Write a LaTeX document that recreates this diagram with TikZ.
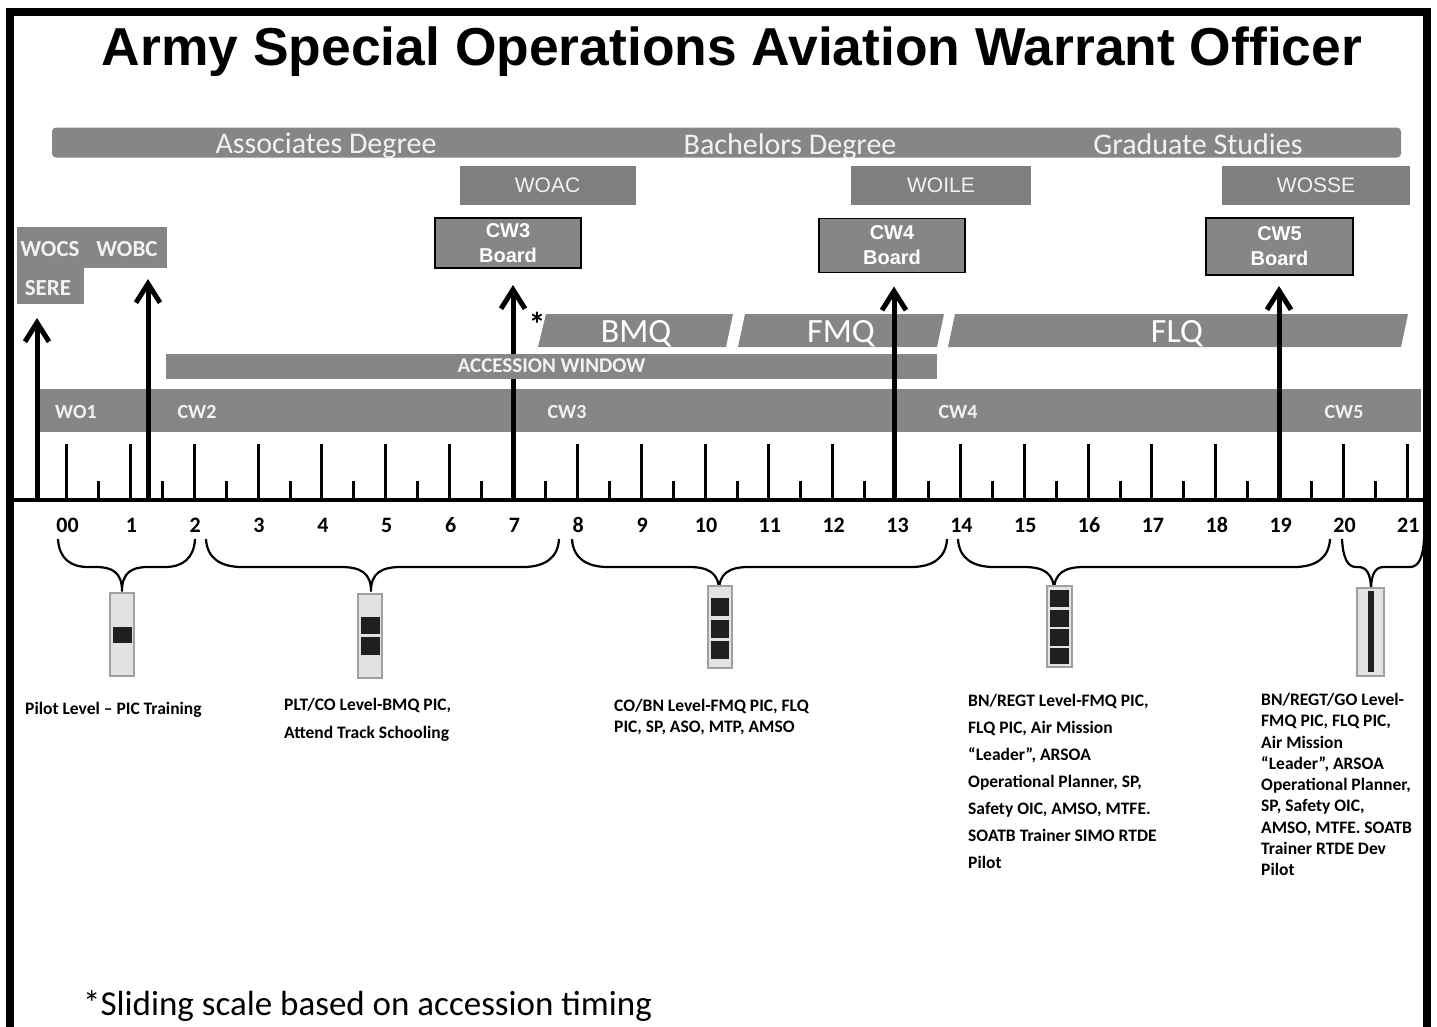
\documentclass[tikz,border=0pt]{standalone}
\usepackage{fontspec}
\setmainfont{Carlito}
\newfontfamily\arialf{Liberation Sans}
\usetikzlibrary{arrows.meta}
\definecolor{bargray}{RGB}{134,134,134}
\definecolor{boxgray}{RGB}{127,127,127}
\definecolor{insbg}{RGB}{226,226,226}
\definecolor{insedge}{RGB}{160,160,160}
\definecolor{bartext}{RGB}{242,242,242}
\newcommand\fs[1]{\fontsize{#1}{#1}\selectfont}
\newcommand\curlybrace[5]{%
  \draw[bracepath] (#1,539) .. controls ({#1+1},558) and ({#1+#4*0.4},567) .. ({#1+#4},567)
    -- ({#2-#5},567) .. controls ({#2-#5*0.35},567) and (#2,573) .. (#2,591)
    .. controls (#2,573) and ({#2+#5*0.35},567) .. ({#2+#5},567)
    -- ({#3-#4},567) .. controls ({#3-#4*0.4},567) and ({#3-1},558) .. (#3,539);}
\begin{document}
\begin{tikzpicture}[x=1pt,y=-1pt,
  graybar/.style={fill=bargray,draw=none,inner sep=0pt,outer sep=0pt},
  coursebox/.style={fill=boxgray,draw=none,inner sep=0pt,outer sep=0pt,text=bartext,font=\arialf\fs{21}},
  boardbox/.style={fill=bargray,draw=black,line width=1.2pt,inner sep=0pt,outer sep=0pt,text=white,
    font=\arialf\bfseries\fontsize{20}{25}\selectfont,align=center},
  bartxt/.style={text=bartext,inner sep=0pt},
  ranktxt/.style={bartxt,font=\bfseries\fs{20}},
  degtxt/.style={bartxt,font=\fs{30},anchor=base},
  qualtxt/.style={text=white,font=\fs{34},anchor=base,inner sep=0pt},
  yearlab/.style={font=\bfseries\fs{22},anchor=base,inner sep=0pt},
  desc/.style={font=\bfseries\fs{17.5},anchor=base west,inner sep=0pt},
  bigarrow/.style={line width=5pt,-{Straight Barb[length=19pt,width=24pt]}},
  tickmark/.style={line width=3pt},
  bracepath/.style={line width=2.2pt,line join=round},
  insig/.style={fill=insbg,draw=insedge,line width=1.2pt},
  stripe/.style={fill=black!88}
]
\useasboundingbox (0,0) rectangle (1437,1026);
\clip (0,0) rectangle (1437,1026);
% frame
\draw[line width=8pt] (10,1040) -- (10,12) -- (1427,12) -- (1427,1040);
% title
\node[font=\arialf\bfseries\fs{53.4},anchor=base,inner sep=0pt] (title) at (732,65)
  {Army Special Operations Aviation Warrant Officer};
% degree bar
\node[graybar,minimum width=1349pt,minimum height=30pt,rounded corners=4pt] (deg) at (726.5,142.5) {};
\node[degtxt] (assoc) at (326,153) {Associates Degree};
\node[degtxt] (bach) at (790,154) {Bachelors Degree};
\node[degtxt] (grad) at (1198,154) {Graduate Studies};
% course boxes
\node[coursebox,minimum width=176pt,minimum height=39pt] (woac) at (547.5,185.5) {WOAC};
\node[coursebox,minimum width=180pt,minimum height=39pt] (woile) at (941,185.5) {WOILE};
\node[coursebox,minimum width=188pt,minimum height=39pt] (wosse) at (1316,185.5) {WOSSE};
% boards
\node[boardbox,minimum width=146pt,minimum height=50pt] (cw3b) at (508,243) {CW3\\Board};
\node[boardbox,minimum width=146pt,minimum height=54pt] (cw4b) at (892,245.5) {CW4\\Board};
\node[boardbox,minimum width=147pt,minimum height=57pt] (cw5b) at (1279.5,246.5) {CW5\\Board};
% WOCS / WOBC / SERE
\node[graybar,minimum width=67pt,minimum height=77pt] (wocsbox) at (50.5,265.5) {};
\node[graybar,minimum width=84pt,minimum height=41pt] (wobcbox) at (125,247.5) {};
\node[ranktxt,font=\bfseries\fs{23}] (wocs) at (50,249) {WOCS};
\node[ranktxt,font=\bfseries\fs{23}] (wobc) at (127,249) {WOBC};
\node[ranktxt,font=\bfseries\fs{23}] (sere) at (48,288) {SERE};
% qualification bars
\fill[bargray] (546,314) -- (733,314) -- (726,347) -- (538,347) -- cycle;
\fill[bargray] (745,314) -- (944,314) -- (937,347) -- (738,347) -- cycle;
\fill[bargray] (955,314) -- (1408,314) -- (1401,347) -- (948,347) -- cycle;
\node[qualtxt] (bmq) at (636,342) {BMQ};
\node[qualtxt] (fmq) at (841,342) {FMQ};
\node[qualtxt] (flq) at (1177,342) {FLQ};
\node[font=\bfseries\fs{34},inner sep=0pt] (ast) at (537,324) {*};
% rank bar
\node[graybar,minimum width=1381pt,minimum height=43pt] (rank) at (730.5,410.5) {};
\node[ranktxt] (wo1) at (76,412) {WO1};
\node[ranktxt] (cw2) at (197,412) {CW2};
\node[ranktxt] (cw3) at (567,412) {CW3};
\node[ranktxt] (cw4) at (958,412) {CW4};
\node[ranktxt] (cw5) at (1344,412) {CW5};
% axis and ticks
\coordinate (axL) at (12,500);
\coordinate (axR) at (1426,500);
\draw[line width=4pt] (axL) -- (axR);
\foreach \n in {0,1,2,3,4,5,6,8,9,10,11,12,14,15,16,17,18,20,21}
  \draw[tickmark] ({66.5+63.85*\n},500) -- ({66.5+63.85*\n},444);
\foreach \n in {0,1,2,3,4,5,6,7,8,9,10,11,12,13,14,15,16,17,18,19,20}
  \draw[tickmark] ({98.5+63.85*\n},500) -- ({98.5+63.85*\n},481);
\foreach \n/\l in {0/00,1/1,2/2,3/3,4/4,5/5,6/6,7/7,8/8,9/9,10/10,11/11,12/12,13/13,14/14,15/15,16/16,17/17,18/18,19/19,20/20,21/21}
  \node[yearlab] (y\n) at ({67.5+63.85*\n},532) {\l};
% arrows
\coordinate (ar0) at (37,502);
\coordinate (ar1) at (148,502);
\coordinate (ar7) at (513,502);
\coordinate (ar13) at (894,502);
\coordinate (ar19) at (1279,502);
\draw[bigarrow,shorten >=17pt] (ar7) -- (ar7 |- cw3b.south);
% accession window (covers the CW3 arrow)
\node[graybar,minimum width=771pt,minimum height=25pt,text=bartext,font=\bfseries\fs{21}] (acc) at (551.5,366) {ACCESSION WINDOW};
\draw[bigarrow,shorten >=14pt] (ar0) -- (ar0 |- wocsbox.south);
\draw[bigarrow,shorten >=11pt] (ar1) -- (ar1 |- wobcbox.south);
\draw[bigarrow,shorten >=14pt] (ar13) -- (ar13 |- cw4b.south);
\draw[bigarrow,shorten >=11pt] (ar19) -- (ar19 |- cw5b.south);
% braces
\curlybrace{58}{122}{195}{30}{26}
\curlybrace{206}{371}{559}{36}{30}
\curlybrace{572}{719}{947}{36}{30}
\curlybrace{958}{1054}{1330}{36}{30}
\curlybrace{1342}{1371}{1424}{14}{13}
% insignia
\draw[insig] (110,593) rectangle (134,676);
\fill[stripe] (113,627) rectangle (132,643);
\draw[insig] (358,594) rectangle (382,678);
\fill[stripe] (361,617) rectangle (380,634);
\fill[stripe] (361,637) rectangle (380,655);
\draw[insig] (708,586) rectangle (732,668);
\fill[stripe] (711,598) rectangle (729,616);
\fill[stripe] (711,620) rectangle (729,638);
\fill[stripe] (711,641) rectangle (729,659);
\draw[insig] (1047,586) rectangle (1072,667);
\fill[stripe] (1050,590) rectangle (1069,607);
\fill[stripe] (1050,610) rectangle (1069,627);
\fill[stripe] (1050,629) rectangle (1069,646);
\fill[stripe] (1050,648) rectangle (1069,664);
\draw[insig] (1357,588) rectangle (1384,676);
\fill[stripe] (1368,591) rectangle (1374,672);
% descriptions
\node[desc] (d1) at (25,714.6) {Pilot Level – PIC Training};
\foreach \t [count=\i] in {{PLT/CO Level-BMQ PIC,},{Attend Track Schooling}}
  \node[desc] (dtwo-\i) at (284,{710.6+28*(\i-1)}) {\t};
\foreach \t [count=\i] in {{CO/BN Level-FMQ PIC, FLQ},{PIC, SP, ASO, MTP, AMSO}}
  \node[desc] (dthree-\i) at (614,{711.6+21*(\i-1)}) {\t};
\foreach \t [count=\i] in {{BN/REGT Level-FMQ PIC,},{FLQ PIC, Air Mission},{“Leader”, ARSOA},{Operational Planner, SP,},{Safety OIC, AMSO, MTFE.},{SOATB Trainer SIMO RTDE},{Pilot}}
  \node[desc] (dfour-\i) at (968,{706.6+27*(\i-1)}) {\t};
\foreach \t [count=\i] in {{BN/REGT/GO Level-},{FMQ PIC, FLQ PIC,},{Air Mission},{“Leader”, ARSOA},{Operational Planner,},{SP, Safety OIC,},{AMSO, MTFE. SOATB},{Trainer RTDE Dev},{Pilot}}
  \node[desc] (dfive-\i) at (1261,{705.6+21.25*(\i-1)}) {\t};
% footnote
\node[font=\fs{35},anchor=base west,inner sep=0pt] (foot) at (83,1015) {*Sliding scale based on accession timing};
\end{tikzpicture}
\end{document}
